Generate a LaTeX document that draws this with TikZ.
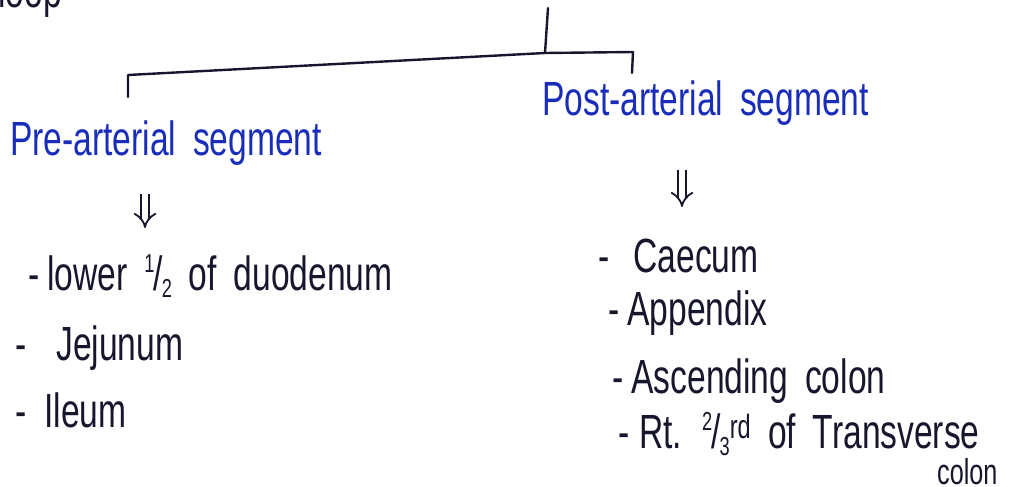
\documentclass[tikz,border=0pt]{standalone}
\usepackage{fontspec}
\setmainfont[FakeStretch=0.7,WordSpace=1.8]{Liberation Sans}
\usetikzlibrary{arrows.meta}
\definecolor{headblue}{RGB}{25,45,185}
\definecolor{ink}{RGB}{22,22,45}
% small hand-style fraction
\newcommand\handfrac[2]{\raisebox{.36em}{\fontsize{26}{26}\selectfont #1}\kern-1pt/\kern-1pt\raisebox{-.15em}{\fontsize{26}{26}\selectfont #2}}
\begin{document}
\begin{tikzpicture}[x=1pt,y=-1pt,
  heading/.style={anchor=base west, inner sep=0pt, text=headblue, font=\fontsize{48}{54}\selectfont},
  item/.style={anchor=base west, inner sep=0pt, text=ink, font=\fontsize{48}{54}\selectfont},
  branch/.style={line width=2.4pt, draw=ink, line cap=round, line join=round},
  dblarrow/.style={line width=1.8pt, double distance=6pt, draw=ink, -{Implies[scale=2]}}]
\useasboundingbox (0,0) rectangle (1015,487);

% top label, running off the page
\node[item] (loop) at (-2,8) {loop};

% branching bracket
\coordinate (stem) at (548,8);
\coordinate (junc) at (545,53);
\coordinate (lcorner) at (128,75);
\coordinate (rcorner) at (633,52);
\coordinate (ltip) at (128,97);
\coordinate (rtip) at (632,73);
\draw[branch] (stem) -- (junc);
\draw[branch] (ltip) -- (lcorner) -- (junc) -- (rcorner) -- (rtip);

% the two segments
\node[heading] (pre) at (10,155) {Pre-arterial segment};
\node[heading] (post) at (542,115) {Post-arterial segment};

% double arrows
\coordinate (la1) at (145,194);
\coordinate (la2) at (145,228);
\coordinate (ra1) at (682,170);
\coordinate (ra2) at (682,207);
\draw[dblarrow] (la1) -- (la2);
\draw[dblarrow] (ra1) -- (ra2);

% pre-arterial contents
\node[item] (duo) at (28,290) {-\hspace{8pt}lower \handfrac{1}{2} of duodenum};
\node[item] (jej) at (15,360) {-\hspace{30pt}Jejunum};
\node[item] (ile) at (15,427) {-\hspace{18pt}Ileum};

% post-arterial contents
\node[item] (cae) at (598,272) {-\hspace{24pt}Caecum};
\node[item] (app) at (608,325) {-\hspace{8pt}Appendix};
\node[item] (asc) at (612,393) {-\hspace{8pt}Ascending colon};
\node[item] (trv) at (618,448) {-\hspace{10pt}Rt. \handfrac{2}{3}\textsuperscript{rd} of Transverse};
\node[item, font=\fontsize{36}{40}\selectfont] (trv2) at (937,484) {colon};
\end{tikzpicture}
\end{document}
